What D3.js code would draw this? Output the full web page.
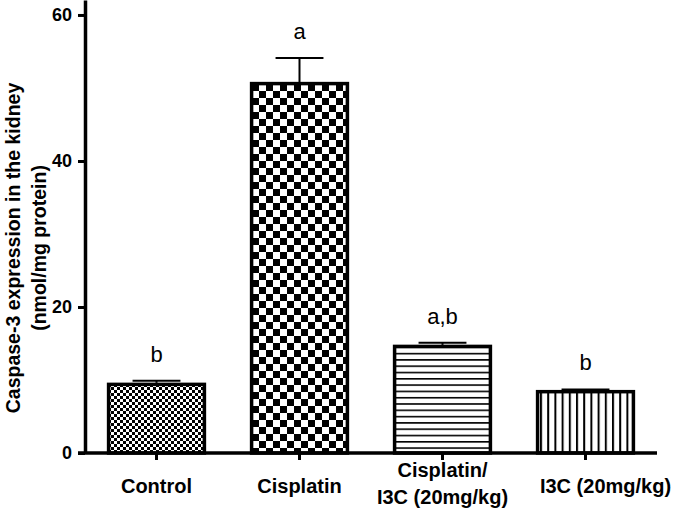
<!DOCTYPE html>
<html>
<head>
<meta charset="utf-8">
<script src="https://cdn.jsdelivr.net/npm/d3@7"></script>
<style>
  html, body { margin: 0; padding: 0; background: #fff; }
  svg { display: block; font-family: "Liberation Sans", Arial, sans-serif; }
</style>
</head>
<body>
<div id="chart"></div>
<script>
// ---- data ----
const categories = ["Control", "Cisplatin", "Cisplatin/I3C", "I3C"];
const categoryLabels = [["Control"], ["Cisplatin"], ["Cisplatin/", "I3C (20mg/kg)"], ["I3C (20mg/kg)"]];
const means = [9.4, 50.6, 14.6, 8.4];
const errors = [0.5, 3.5, 0.5, 0.3];
const letters = ["b", "a", "a,b", "b"];
const patterns = ["fineChecker", "coarseChecker", "hLines", "vLines"];
const yTicks = [0, 20, 40, 60];
const yTitle = ["Caspase-3 expression in the kidney", "(nmol/mg protein)"];

// ---- layout ----
const W = 675, H = 511;
const svg = d3.select("#chart").append("svg").attr("width", W).attr("height", H);

const x = d3.scaleBand().domain(categories).range([85, 657]).paddingInner(0.33).paddingOuter(0.165);
const y = d3.scaleLinear().domain([0, 62.05]).range([453, 0]);

// ---- patterns ----
const defs = svg.append("defs");
function checker(id, s) {
  const p = defs.append("pattern").attr("id", id).attr("patternUnits", "userSpaceOnUse")
    .attr("width", 2 * s).attr("height", 2 * s);
  p.append("rect").attr("width", 2 * s).attr("height", 2 * s).attr("fill", "#fff");
  p.append("rect").attr("x", 0).attr("y", 0).attr("width", s).attr("height", s).attr("fill", "#000");
  p.append("rect").attr("x", s).attr("y", s).attr("width", s).attr("height", s).attr("fill", "#000");
}
checker("fineChecker", 3);
checker("coarseChecker", 7);
{
  const p = defs.append("pattern").attr("id", "hLines").attr("patternUnits", "userSpaceOnUse")
    .attr("width", 10).attr("height", 6.3);
  p.append("rect").attr("width", 10).attr("height", 6.3).attr("fill", "#fff");
  p.append("rect").attr("x", 0).attr("y", 0).attr("width", 10).attr("height", 1.6).attr("fill", "#000");
}
{
  const p = defs.append("pattern").attr("id", "vLines").attr("patternUnits", "userSpaceOnUse")
    .attr("width", 7.2).attr("height", 10);
  p.append("rect").attr("width", 7.2).attr("height", 10).attr("fill", "#fff");
  p.append("rect").attr("x", 0).attr("y", 0).attr("width", 2).attr("height", 10).attr("fill", "#000");
}

// ---- bars ----
const g = svg.append("g");
g.selectAll("rect.bar").data(categories).join("rect")
  .attr("class", "bar")
  .attr("x", d => x(d))
  .attr("y", (d, i) => y(means[i]))
  .attr("width", x.bandwidth())
  .attr("height", (d, i) => y(0) - y(means[i]))
  .attr("fill", (d, i) => `url(#${patterns[i]})`)
  .attr("stroke", "#000")
  .attr("stroke-width", 3.5);

// ---- error bars (upper only) ----
const capW = x.bandwidth() / 2;
categories.forEach((c, i) => {
  const cx = x(c) + x.bandwidth() / 2;
  const top = y(means[i] + errors[i]);
  g.append("line").attr("x1", cx).attr("x2", cx).attr("y1", y(means[i]) - 1.5).attr("y2", top)
    .attr("stroke", "#000").attr("stroke-width", 2);
  g.append("line").attr("x1", cx - capW / 2).attr("x2", cx + capW / 2).attr("y1", top).attr("y2", top)
    .attr("stroke", "#000").attr("stroke-width", 2);
  g.append("text").attr("x", cx).attr("y", top - 19)
    .attr("text-anchor", "middle").attr("font-size", 22)
    .attr("font-family", "'Liberation Sans', Arial, sans-serif")
    .text(letters[i]);
});

// ---- axes ----
const yAxis = svg.append("g").attr("transform", "translate(85,0)")
  .call(d3.axisLeft(y).tickValues(yTicks).tickSize(7).tickSizeOuter(0).tickPadding(6));
yAxis.select(".domain").attr("stroke-width", 3.5);
yAxis.selectAll(".tick line").attr("stroke-width", 3);
yAxis.selectAll(".tick text").attr("font-size", 18).attr("font-weight", "bold")
  .attr("font-family", "'Liberation Sans', Arial, sans-serif").attr("fill", "#000");

const xAxis = svg.append("g").attr("transform", `translate(0,${y(0)})`)
  .call(d3.axisBottom(x).tickSize(7).tickSizeOuter(0).tickFormat(""));
xAxis.select(".domain").attr("d", "M78,0H657").attr("stroke-width", 3.5);
xAxis.selectAll(".tick line").attr("stroke-width", 3);

// ---- x labels ----
const labelNudge = [0, 0, 0, 20];
categories.forEach((c, i) => {
  const cx = x(c) + x.bandwidth() / 2 + labelNudge[i];
  const lines = categoryLabels[i];
  const t = svg.append("text").attr("text-anchor", "middle").attr("font-size", 20)
    .attr("font-weight", "bold").attr("font-family", "'Liberation Sans', Arial, sans-serif");
  const baseY = lines.length === 1 ? 493 : 477;
  lines.forEach((l, j) => {
    t.append("tspan").attr("x", cx).attr("y", baseY + j * 27).text(l);
  });
});

// ---- y title ----
yTitle.forEach((l, j) => {
  svg.append("text")
    .attr("transform", `translate(${20 + j * 26},248) rotate(-90)`)
    .attr("text-anchor", "middle").attr("font-size", 19.5).attr("font-weight", "bold")
    .attr("font-family", "'Liberation Sans', Arial, sans-serif")
    .text(l);
});
</script>
</body>
</html>
